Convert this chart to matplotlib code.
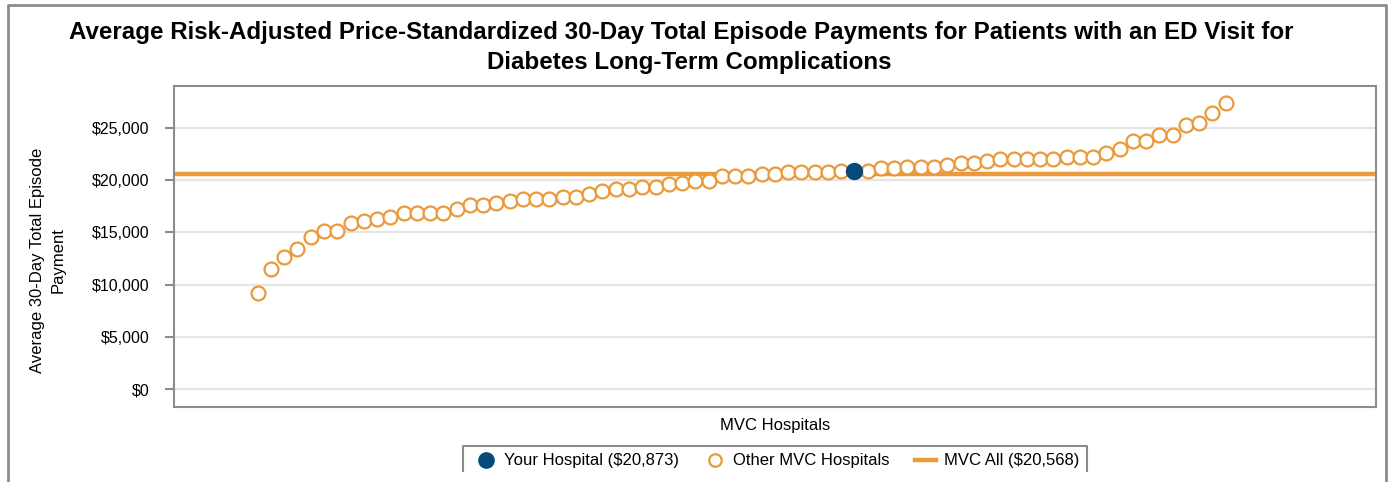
import numpy as np
import matplotlib.pyplot as plt
from matplotlib.lines import Line2D

plt.rcParams['font.family'] = ['Liberation Sans', 'DejaVu Sans']

# data (sorted hospital payments)
others_low = [9210, 11510, 12630, 13420, 14540, 15120, 15120, 15910, 16100, 16260,
              16460, 16870, 16870, 16870, 16870, 17220, 17630, 17630, 17830, 18020,
              18210, 18210, 18210, 18400, 18400, 18660, 18970, 19160, 19160, 19350,
              19350, 19610, 19740, 19930, 19930, 20350, 20350, 20360, 20540, 20540,
              20730, 20730, 20730, 20730, 20850]
others_high = [20880, 21110, 21110, 21300, 21300, 21300, 21460, 21650, 21650, 21850,
               22040, 22040, 22040, 22040, 22040, 22230, 22230, 22230, 22580, 22990,
               23760, 23760, 24300, 24300, 25290, 25480, 26430, 27390]
your_hospital = 20873
mvc_all = 20568
yticks = [0, 5000, 10000, 15000, 20000, 25000]

orange = '#EA9A3A'
navy = '#054B7A'
frame_gray = '#8c8c8c'

n_low = len(others_low)
x_low = np.arange(1, n_low + 1)
x_you = n_low + 1
x_high = np.arange(n_low + 2, n_low + 2 + len(others_high))

W, H = 1390, 482
fig = plt.figure(figsize=(W / 100, H / 100), dpi=100)
ax = fig.add_axes([174 / W, 1 - 407 / H, (1376 - 174) / W, (407 - 86) / H])

for y in yticks:
    ax.axhline(y, color='#e5e5e5', lw=1.6, zorder=0)
ax.axhline(mvc_all, color=orange, lw=3.2, zorder=1)

ax.plot(x_low, others_low, 'o', ms=10, mfc='white', mec=orange, mew=1.6, ls='none', zorder=2)
ax.plot(x_high, others_high, 'o', ms=10, mfc='white', mec=orange, mew=1.6, ls='none', zorder=2)
ax.plot([x_you], [your_hospital], 'o', ms=11.5, color=navy, ls='none', zorder=3)

ax.set_xlim(-5.31, 85.33)
ax.set_ylim(-1700, 29000)
ax.set_xticks([])
ax.set_yticks(yticks)
ax.set_yticklabels(['${:,}'.format(v) for v in yticks], fontsize=11.5)
ax.tick_params(axis='y', length=6.5, width=1.5, color=frame_gray, pad=11)
for s in ax.spines.values():
    s.set_color(frame_gray)
    s.set_linewidth(1.5)

ax.set_xlabel('MVC Hospitals', fontsize=12, labelpad=8)
fig.text(48 / W, 1 - 260 / H, 'Average 30-Day Total Episode\nPayment', rotation=90,
         ha='center', va='center', fontsize=12, linespacing=1.45)

fig.text(681 / W, 1 - 33 / H, 'Average Risk-Adjusted Price-Standardized 30-Day Total Episode Payments for Patients with an ED Visit for',
         ha='center', va='center', fontsize=17.4, fontweight='bold')
fig.text(689 / W, 1 - 63 / H, 'Diabetes Long-Term Complications',
         ha='center', va='center', fontsize=17.4, fontweight='bold')

# legend
handles = [Line2D([], [], marker='o', ls='none', ms=11, color=navy),
           Line2D([], [], marker='o', ls='none', ms=9, mfc='white', mec=orange, mew=1.6),
           Line2D([], [], color=orange, lw=3.2)]
labels = ['Your Hospital ($20,873)', 'Other MVC Hospitals', 'MVC All ($20,568)']
fig.legend(handles, labels, loc='center', bbox_to_anchor=(777 / W, 1 - 461 / H), ncol=3,
           frameon=False, fontsize=12, handlelength=1.3, handletextpad=0.45, columnspacing=1.5)

# legend frame (bottom cut off) and outer border
lx0, lx1, ly0, ly1 = 463 / W, 1087 / W, 1 - 446 / H, 1 - 471 / H
fig.add_artist(Line2D([lx0, lx0, lx1, lx1], [ly1, ly0, ly0, ly1], color=frame_gray, lw=1.5))
bx0, bx1, by0 = 8 / W, 1386 / W, 1 - 5 / H
fig.add_artist(Line2D([bx0, bx0, bx1, bx1], [0, by0, by0, 0], color=frame_gray, lw=2))

fig.savefig('out.png', dpi=100)
